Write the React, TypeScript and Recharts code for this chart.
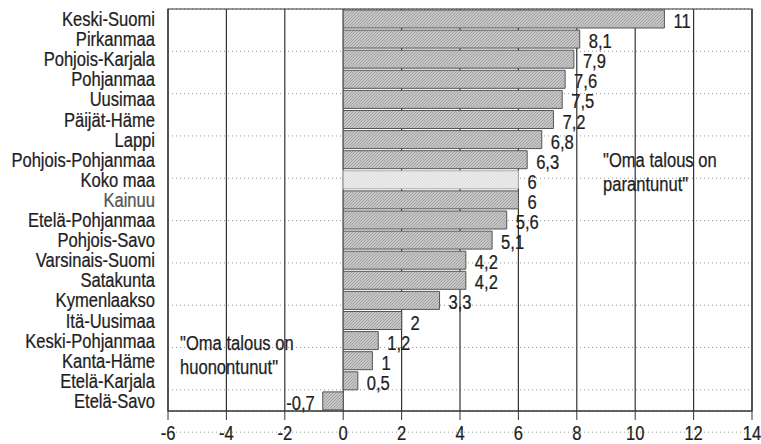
import { BarChart, Bar, XAxis, YAxis, CartesianGrid, ReferenceArea, Cell, LabelList } from "recharts";

const regions = [
  "Keski-Suomi", "Pirkanmaa", "Pohjois-Karjala", "Pohjanmaa", "Uusimaa", "Päijät-Häme", "Lappi",
  "Pohjois-Pohjanmaa", "Koko maa", "Kainuu", "Etelä-Pohjanmaa", "Pohjois-Savo", "Varsinais-Suomi",
  "Satakunta", "Kymenlaakso", "Itä-Uusimaa", "Keski-Pohjanmaa", "Kanta-Häme", "Etelä-Karjala", "Etelä-Savo",
];
const values = [11, 8.1, 7.9, 7.6, 7.5, 7.2, 6.8, 6.3, 6, 6, 5.6, 5.1, 4.2, 4.2, 3.3, 2, 1.2, 1, 0.5, -0.7];
const xTicks = [-6, -4, -2, 0, 2, 4, 6, 8, 10, 12, 14];
const rowEdges = Array.from({ length: regions.length + 1 }, (_, i) => i);
const totalLabel = "Koko maa";

const data = regions.map((region, i) => ({ region, value: values[i] }));

// no Arial Narrow here: squeeze Liberation Sans horizontally instead
const FONT = "'Liberation Sans', Arial, sans-serif";
const FS = 19.5;
const SX = 0.85;
const INK = "#1e1e1e";

function CondText({ x, y, anchor, fill = INK, dy, children }: any) {
  return (
    <text
      transform={`translate(${x},${y}) scale(${SX},1)`}
      textAnchor={anchor}
      dy={dy}
      fontSize={FS}
      fontFamily={FONT}
      fill={fill}
      stroke={fill}
      strokeWidth={0.25}
    >
      {children}
    </text>
  );
}

function RegionTick(props: any) {
  const { x, y, payload } = props;
  const fill = payload.value === "Kainuu" ? "#555" : INK;
  return (
    <CondText x={x} y={y} anchor="end" dy="0.36em" fill={fill}>
      {payload.value}
    </CondText>
  );
}

function ValueTick(props: any) {
  const { x, y, payload } = props;
  return (
    <CondText x={x} y={y} anchor="middle" dy="0.71em">
      {payload.value}
    </CondText>
  );
}

function ValueLabel(props: any) {
  const { x, y, width, height, value } = props;
  const left = Math.min(x, x + width);
  const right = Math.max(x, x + width);
  const neg = value < 0;
  return (
    <CondText x={neg ? left - 8 : right + 9} y={y + height / 2 + 2} anchor={neg ? "end" : "start"} dy="0.36em">
      {String(value).replace(".", ",")}
    </CondText>
  );
}

const noteStyle: React.CSSProperties = {
  position: "absolute",
  fontFamily: FONT,
  fontSize: FS,
  lineHeight: "24px",
  color: INK,
  whiteSpace: "nowrap",
  transform: `scaleX(${SX})`,
  transformOrigin: "left top",
  WebkitTextStroke: "0.25px #1e1e1e",
};

export default function App() {
  return (
    <div style={{ position: "absolute", left: 0, top: 0, width: 761, height: 444, background: "#fff" }}>
      <BarChart
        width={761}
        height={444}
        data={data}
        layout="vertical"
        barCategoryGap={1}
        margin={{ top: 9, right: 9, bottom: 0, left: 0 }}
      >
        <defs>
          <pattern id="hatch" patternUnits="userSpaceOnUse" width="3" height="3">
            <rect width="3" height="3" fill="#c6c6c6" />
            <path d="M0,3 L3,0" stroke="#989898" strokeWidth="0.8" />
          </pattern>
          <pattern id="hatchLight" patternUnits="userSpaceOnUse" width="3" height="3">
            <rect width="3" height="3" fill="#ececec" />
            <path d="M0,3 L3,0" stroke="#d6d6d6" strokeWidth="0.8" />
          </pattern>
        </defs>
        <CartesianGrid yAxisId="grid" vertical={false} stroke="#999" strokeDasharray="1 3" />
        <CartesianGrid horizontal={false} stroke="#333" strokeWidth={1.2} />
        <XAxis
          type="number"
          domain={[-6, 14]}
          ticks={xTicks}
          interval={0}
          height={33}
          tickSize={9}
          tickMargin={6}
          axisLine={{ stroke: "#333", strokeWidth: 1.2 }}
          tickLine={{ stroke: "#333" }}
          tick={<ValueTick />}
        />
        <YAxis
          type="category"
          dataKey="region"
          width={168}
          tickSize={0}
          tickMargin={13}
          axisLine={false}
          tickLine={false}
          interval={0}
          tick={<RegionTick />}
        />
        <YAxis yAxisId="grid" type="number" domain={[0, regions.length]} ticks={rowEdges} hide />
        <ReferenceArea x1={-6} x2={14} fill="none" stroke="#333" strokeWidth={1.2} />
        <Bar dataKey="value" isAnimationActive={false}>
          {data.map((d) => (
            <Cell
              key={d.region}
              fill={d.region === totalLabel ? "url(#hatchLight)" : "url(#hatch)"}
              stroke={d.region === totalLabel ? "#aaa" : "#555"}
            />
          ))}
          <LabelList dataKey="value" content={ValueLabel} />
        </Bar>
      </BarChart>
      <div style={{ ...noteStyle, left: 603, top: 148 }}>
        "Oma talous on
        <br />
        parantunut"
      </div>
      <div style={{ ...noteStyle, left: 180, top: 331 }}>
        "Oma talous on
        <br />
        huonontunut"
      </div>
    </div>
  );
}
